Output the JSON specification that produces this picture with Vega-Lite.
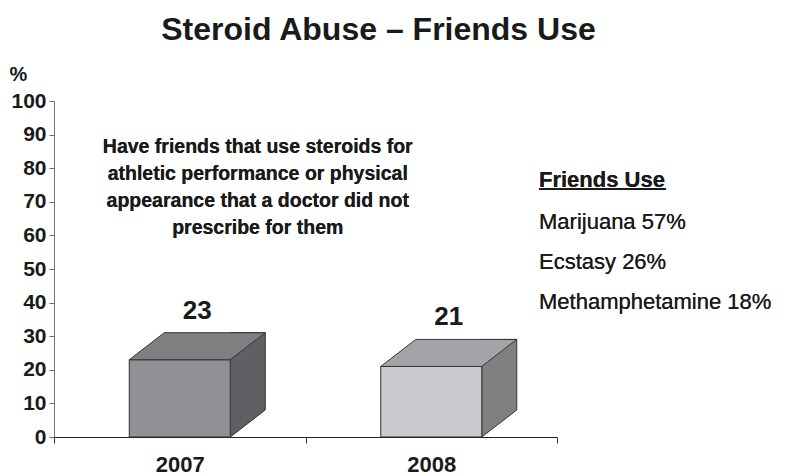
{
  "$schema": "https://vega.github.io/schema/vega-lite/v6.json",
  "autosize": {"type": "none"},
  "width": 503,
  "height": 336,
  "padding": {"left": 54, "top": 101, "right": 229, "bottom": 38},
  "background": "white",
  "config": {"view": {"stroke": null}, "font": "Liberation Sans"},
  "title": {
    "text": "Steroid Abuse – Friends Use",
    "fontSize": 32,
    "fontWeight": "bold",
    "color": "#1a1a1a",
    "anchor": "middle",
    "dx": 73,
    "offset": 17
  },
  "data": {"values": [
    {"year": "2007", "value": 23},
    {"year": "2008", "value": 21}
  ]},
  "encoding": {
    "x": {
      "field": "year",
      "type": "nominal",
      "scale": {"paddingInner": 0, "paddingOuter": 0},
      "axis": {
        "title": null,
        "labelAngle": 0,
        "labelFontSize": 22,
        "labelFontWeight": "bold",
        "labelColor": "#1a1a1a",
        "tickBand": "extent",
        "tickSize": 6,
        "tickColor": "#333",
        "domainColor": "#222",
        "labelPadding": 11,
        "zindex": 1
      }
    },
    "y": {
      "field": "value",
      "type": "quantitative",
      "scale": {"domain": [0, 100]},
      "axis": {
        "values": [0, 10, 20, 30, 40, 50, 60, 70, 80, 90, 100],
        "grid": false,
        "title": "%",
        "titleAngle": 0,
        "titleX": -36,
        "titleY": -27,
        "titleAlign": "center",
        "titleBaseline": "middle",
        "titleFontSize": 20,
        "titleFontWeight": "bold",
        "titleColor": "#1a1a1a",
        "labelFontSize": 21,
        "labelFontWeight": "bold",
        "labelColor": "#1a1a1a",
        "labelPadding": 3,
        "tickSize": 5,
        "tickColor": "#666",
        "domainColor": "#777"
      }
    }
  },
  "layer": [
    {
      "mark": {"type": "bar", "width": 35, "xOffset": 68, "yOffset": -27, "y2Offset": 0, "stroke": "#333", "strokeWidth": 1},
      "encoding": {
        "y2": {"datum": 0},
        "color": {"field": "year", "type": "nominal", "scale": {"domain": ["2007", "2008"], "range": ["#5f6064", "#7e8082"]}, "legend": null}
      }
    },
    {
      "mark": {"type": "point", "shape": "M50.5,0 L85.5,-27 L87,-27 L87,1 L50.5,1 Z", "size": 4, "filled": true, "fill": "white", "strokeWidth": 0, "opacity": 1},
      "encoding": {"y": {"datum": 0}}
    },
    {
      "mark": {"type": "point", "shape": "M50.5,0 L85.5,-27", "size": 4, "filled": false, "stroke": "#333", "strokeWidth": 1, "opacity": 1},
      "encoding": {"y": {"datum": 0}}
    },
    {
      "mark": {"type": "bar", "width": 101, "stroke": "#333", "strokeWidth": 1},
      "encoding": {
        "y2": {"datum": 0},
        "color": {"field": "year", "type": "nominal", "scale": {"domain": ["2007", "2008"], "range": ["#909194", "#c9cacd"]}, "legend": null}
      }
    },
    {
      "mark": {"type": "point", "shape": "M-50.5,0 L50.5,0 L85.5,-27 L-15.5,-27 Z", "size": 4, "filled": true, "stroke": "#333", "strokeWidth": 1, "opacity": 1},
      "encoding": {
        "color": {"field": "year", "type": "nominal", "scale": {"domain": ["2007", "2008"], "range": ["#7d7f81", "#a3a4a7"]}, "legend": null}
      }
    },
    {
      "mark": {"type": "text", "fontSize": 26, "fontWeight": "bold", "color": "#1a1a1a", "baseline": "middle", "align": "center", "dx": 17.5, "dy": -49},
      "encoding": {"text": {"field": "value", "type": "quantitative"}}
    },
    {
      "mark": {
        "type": "text",
        "text": ["Have friends that use steroids for", "athletic performance or physical", "appearance that a doctor did not", "prescribe for them"],
        "fontSize": 19.5,
        "fontWeight": "bold",
        "color": "#1a1a1a",
        "align": "center",
        "baseline": "top",
        "lineHeight": 27,
        "dx": 78
      },
      "encoding": {"x": {"datum": "2007"}, "y": {"datum": 89.1}}
    },
    {
      "mark": {"type": "text", "text": "Friends Use", "fontSize": 22, "fontWeight": "bold", "color": "#1a1a1a", "align": "left", "baseline": "middle", "dx": 107.75},
      "encoding": {"x": {"datum": "2008"}, "y": {"datum": 76.5}}
    },
    {
      "mark": {"type": "rule", "stroke": "#1a1a1a", "strokeWidth": 2, "xOffset": 107.75, "x2Offset": 234.75},
      "encoding": {"x": {"datum": "2008"}, "x2": {"datum": "2008"}, "y": {"datum": 73.8}}
    },
    {
      "mark": {
        "type": "text",
        "text": ["Marijuana 57%", "Ecstasy 26%", "Methamphetamine 18%"],
        "fontSize": 22,
        "color": "#1a1a1a",
        "align": "left",
        "baseline": "top",
        "lineHeight": 40,
        "dx": 107.75
      },
      "encoding": {"x": {"datum": "2008"}, "y": {"datum": 67.1}}
    }
  ],
  "resolve": {"scale": {"color": "independent"}}
}
